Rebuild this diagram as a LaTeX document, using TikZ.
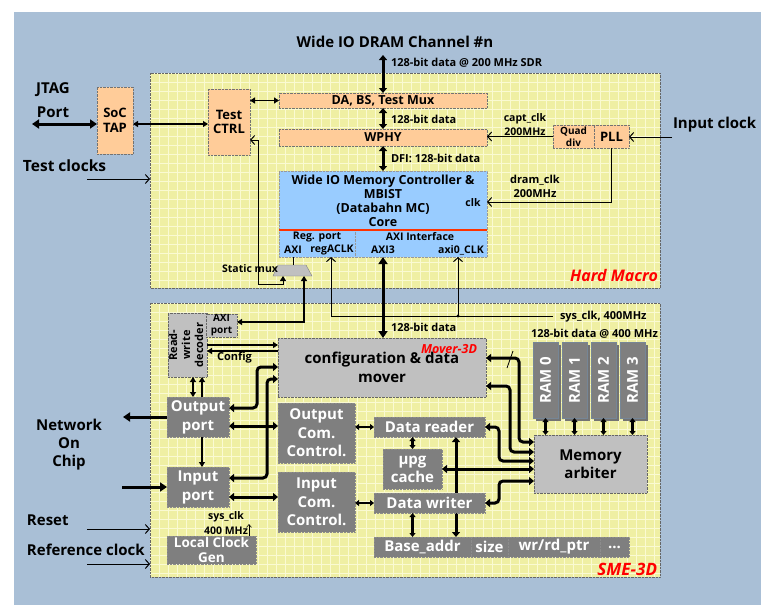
\documentclass[tikz,border=0pt]{standalone}
\usepackage{fontspec}
\setmainfont{Open Sans}
\usetikzlibrary{arrows.meta,shadows}
\definecolor{bgblue}{HTML}{A9BFD6}
\definecolor{yel}{HTML}{EFEFA3}
\definecolor{yelgrid}{HTML}{FAFAD2}
\definecolor{peach}{HTML}{FFCC99}
\definecolor{mcblue}{HTML}{99CCFF}
\definecolor{lgr}{HTML}{C0C0C0}
\definecolor{dgr}{HTML}{7F7F7F}
\definecolor{redline}{HTML}{FF3300}
\newcommand\fz[2]{\fontsize{#1}{#2}\selectfont\bfseries}
\tikzset{
 bx/.style={inner sep=0pt, outer sep=0pt, anchor=north west, align=center},
 macrobox/.style={bx, fill=yel},
 peachbox/.style={bx, fill=peach, draw=black!55, densely dotted},
 bluebox/.style={bx, fill=mcblue, draw=black!40, densely dotted},
 lgbox/.style={bx, fill=lgr, draw=black!60, densely dotted},
 dgbox/.style={bx, fill=dgr, draw=black!45, densely dotted, text=white},
 rambox/.style={bx, fill=dgr, draw=bgblue!70!black, text=white, drop shadow={shadow xshift=2.5pt, shadow yshift=-2.5pt, fill=black!55, opacity=1}},
 lbl/.style={inner sep=0pt, outer sep=0pt, align=center},
 gridl/.style={yelgrid, line width=0.8pt},
 tk/.style={line width=3pt},
 tkboth/.style={tk, {Triangle[length=7pt,width=9pt]}-{Triangle[length=7pt,width=9pt]}},
 tkbs/.style={tk, {Triangle[length=5pt,width=8pt]}-{Triangle[length=5pt,width=8pt]}},
 tkend/.style={tk, -{Triangle[length=7pt,width=9pt]}},
 md/.style={line width=1.3pt},
 mdboth/.style={md, {Triangle[length=5pt,width=6pt]}-{Triangle[length=5pt,width=6pt]}},
 mdend/.style={md, -{Triangle[length=5pt,width=6pt]}},
 tn/.style={line width=1pt, -{Straight Barb[length=4pt,width=9pt]}},
 sm/.style={line width=2.2pt, {Triangle[length=4pt,width=6pt]}-{Triangle[length=4pt,width=6pt]}},
}
\begin{document}
\begin{tikzpicture}[x=1pt,y=-1pt]
\useasboundingbox (0,0) rectangle (761,605);
\fill[white] (0,0) rectangle (761,605);
\fill[bgblue] (14,12) rectangle (761,605);

% ---------- macro boxes with grid
\node[macrobox, minimum width=510, minimum height=215] (hm) at (150,73) {};
\begin{scope}
\clip (150,73) rectangle (660,288);
\foreach \x in {150,159,...,660} \draw[gridl] (\x,73) -- (\x,288);
\foreach \y in {73,82,...,288} \draw[gridl] (150,\y) -- (660,\y);
\end{scope}
\draw[black!60, densely dotted] (hm.north west) rectangle (hm.south east);

\node[macrobox, minimum width=510, minimum height=274] (sme) at (150,303) {};
\begin{scope}
\clip (150,303) rectangle (660,577);
\foreach \x in {150,159,...,660} \draw[gridl] (\x,303) -- (\x,577);
\foreach \y in {303,312,...,577} \draw[gridl] (150,\y) -- (660,\y);
\end{scope}
\draw[black!60, densely dotted] (sme.north west) rectangle (sme.south east);

% ---------- texts outside
\node[lbl, font={\fz{15}{17}}] (title) at (395,42) {Wide IO DRAM Channel \#n};
\node[lbl, font={\fz{15}{17}}] (jtag) at (53,90) {JTAG};
\node[lbl, font={\fz{15}{17}}] (port) at (53,112) {Port};
\node[lbl, anchor=west, font={\fz{15.5}{17}}] (tclk) at (23,166) {Test clocks};
\node[lbl, anchor=west, font={\fz{15}{17}}] (inclk) at (673,125) {Input clock};
\node[lbl, font={\fz{15}{18}}] (noc) at (69,445) {Network\\On\\Chip};
\node[lbl, anchor=west, font={\fz{15}{17}}] (reset) at (27,520) {Reset};
\node[lbl, anchor=west, font={\fz{15}{17}}] (refclk) at (27,550) {Reference clock};

% ---------- hard macro content
\node[peachbox, minimum width=36, minimum height=67, font={\fz{13}{15}}] (soctap) at (97,87) {SoC\\TAP};
\node[peachbox, minimum width=42, minimum height=66, font={\fz{13}{14}}] (testctrl) at (208,89) {Test\\CTRL};
\node[peachbox, minimum width=208, minimum height=15, font={\fz{12.5}{14}}] (damux) at (279,93) {DA, BS, Test Mux};
\node[peachbox, minimum width=208, minimum height=17, font={\fz{12.5}{14}}] (wphy) at (279,129) {WPHY};
\node[bluebox, minimum width=208, minimum height=86] (mc) at (279,171) {};
\node[lbl, font={\fz{12.5}{14.2}}] (mctext) at (383,201) {Wide IO Memory Controller \&\\MBIST\\(Databahn MC)\\Core};
\draw[redline, line width=2.5pt] (279,230) -- (487,230);
\draw[black!40, densely dotted] (355,231.5) -- (355,257);
\node[lbl, font={\fz{10.5}{12}}] (clk) at (473,203) {clk};
\node[lbl, font={\fz{10.5}{12}}] (regport) at (317,237) {Reg. port};
\node[lbl, font={\fz{10.5}{12}}] (axi) at (293,250) {AXI};
\node[lbl, font={\fz{10.5}{12}}] (regaclk) at (332,250) {regACLK};
\node[lbl, font={\fz{10.5}{12}}] (axiif) at (420,237) {AXI Interface};
\node[lbl, font={\fz{10.5}{12}}] (axi3) at (383,250) {AXI3};
\node[lbl, font={\fz{10.5}{12}}] (axiclk) at (461,250) {axi0\_CLK};
\node[peachbox, minimum width=41, minimum height=23, font={\fz{10}{12.5}}] (quad) at (553,125) {Quad\\div};
\node[peachbox, minimum width=35, minimum height=23, font={\fz{13}{15}}] (pll) at (594,125) {PLL};
\node[lbl, font={\fz{10.5}{14.5}}] (capt) at (525,124.5) {capt\_clk\\200MHz};
\node[lbl, font={\fz{11}{14}}] (dram) at (535,186) {dram\_clk\\200MHz};
\node[lbl, anchor=west, font={\fz{11}{12}}] (l1) at (391,63) {128-bit data @ 200 MHz SDR};
\node[lbl, anchor=west, font={\fz{11}{12}}] (l2) at (391,119) {128-bit data};
\node[lbl, anchor=west, font={\fz{11}{12}}] (l3) at (391,158) {DFI: 128-bit data};
\node[lbl, anchor=east, text=red, font={\fz{16}{18}\itshape}] (hmlbl) at (658,275) {Hard Macro};
% static mux
\draw[fill=lgr, draw=black!50] (278,265) -- (306,265) -- (312,276) -- (273,276) -- cycle;
\node[lbl, anchor=east, font={\fz{10.5}{12}}] (muxlbl) at (278,269) {Static mux};
\coordinate (muxtop) at (293,265);
\coordinate (muxinl) at (283,276);
\coordinate (muxinr) at (304,276);

% ---------- SME content
\node[lgbox, minimum width=38, minimum height=64, font={\fz{11}{13}}] (decoder) at (168,313) {\rotatebox{90}{\begin{tabular}{@{}c@{}}Read-\\write\\decoder\end{tabular}}};
\node[lgbox, minimum width=31, minimum height=23, font={\fz{10}{12}}] (axiport) at (206,314) {AXI\\port};
\node[lgbox, minimum width=208, minimum height=59, font={\fz{15}{19}}] (mover) at (278,338) {configuration \& data\\mover};
\node[lbl, anchor=west, text=red, font={\fz{12.5}{14}\itshape}] (moverlbl) at (421,349) {Mover-3D};
\node[dgbox, minimum width=62, minimum height=40, font={\fz{15}{19}}] (outport) at (167,397) {Output\\port};
\node[dgbox, minimum width=62, minimum height=40, font={\fz{15}{19}}] (inport) at (167,467) {Input\\port};
\node[dgbox, minimum width=89, minimum height=28, font={\fz{13.5}{15}}] (lcg) at (167,536) {Local Clock\\Gen};
\node[dgbox, minimum width=77, minimum height=60, font={\fz{15}{18.5}}] (occ) at (278,403) {Output\\Com.\\Control.};
\node[dgbox, minimum width=77, minimum height=60, font={\fz{15}{18.5}}] (icc) at (278,472) {Input\\Com.\\Control.};
\node[dgbox, minimum width=111, minimum height=20, font={\fz{15}{17}}] (reader) at (374,417) {Data reader};
\node[dgbox, minimum width=59, minimum height=40, font={\fz{15}{18}}] (cache) at (383,449) {µpg\\cache};
\node[dgbox, minimum width=97, minimum height=20, font={\fz{15}{17}}] (base) at (374,537) {Base\_addr};
\node[dgbox, minimum width=37, minimum height=20, font={\fz{15}{17}}] (size) at (471,537) {size};
\node[dgbox, minimum width=92, minimum height=20, font={\fz{15}{17}}] (ptr) at (508,537) {wr/rd\_ptr};
\node[dgbox, minimum width=29, minimum height=20, font={\fz{15}{17}}] (dots) at (600,537) {...};
\coordinate (c456) at (456,0);
\draw[tkbs] (reader.south -| c456) -- (base.north -| c456);
\node[dgbox, minimum width=111, minimum height=20, font={\fz{15}{17}}] (writer) at (374,493) {Data writer};
\node[lgbox, minimum width=113, minimum height=58, font={\fz{15}{18}}] (arbiter) at (534,435) {Memory\\arbiter};
\node[rambox, minimum width=25, minimum height=76, font={\fz{15}{17}}] (ram0) at (533,342) {\rotatebox{90}{RAM 0}};
\node[rambox, minimum width=25, minimum height=76, font={\fz{15}{17}}] (ram1) at (562,342) {\rotatebox{90}{RAM 1}};
\node[rambox, minimum width=25, minimum height=76, font={\fz{15}{17}}] (ram2) at (591,342) {\rotatebox{90}{RAM 2}};
\node[rambox, minimum width=25, minimum height=76, font={\fz{15}{17}}] (ram3) at (620,342) {\rotatebox{90}{RAM 3}};
\node[lbl, font={\fz{11}{12}}] (l400) at (594.5,334) {128-bit data @ 400 MHz};
\node[lbl, anchor=west, font={\fz{11}{12}}] (sysclk) at (560,317) {sys\_clk, 400MHz};
\node[lbl, anchor=west, font={\fz{11}{12}}] (l128b) at (391,327) {128-bit data};
\node[lbl, anchor=west, font={\fz{11}{12}}] (cfg) at (217,358) {Config};
\node[lbl, font={\fz{10.5}{15}}] (lsys) at (226,523.5) {sys\_clk\\400 MHz};
\node[lbl, anchor=east, text=red, font={\fz{17}{19}\itshape}] (smelbl) at (657,569) {SME-3D};

% ---------- connectors: hard macro
\coordinate (chtop) at (383,55);
\draw[tkbs] (chtop) -- (damux.north);
\draw[tkbs] (damux.south) -- (wphy.north);
\draw[tkbs] (wphy.south) -- (mc.north);
\coordinate (jtagend) at (32,124);
\draw[tkboth] (jtagend) -- (jtagend -| soctap.west);
\draw[mdboth] (soctap.east |- jtagend) -- (testctrl.west |- jtagend);
\draw[mdboth] (testctrl.east |- damux.west) -- (damux.west);
\coordinate (tclks) at (87,179);
\draw[tn] (tclks) -- (tclks -| hm.west);
\coordinate (inclks) at (672,137);
\draw[tn] (inclks) -- (inclks -| pll.east);
\draw[tn] (quad.west) -- (quad.west -| wphy.east);
\coordinate (dramc) at (611,202);
\draw[tn] (pll.south -| dramc) -- (dramc) -- (dramc -| mc.east);
\draw[line width=0.8pt] (muxtop) -- (muxtop |- mc.south);
\coordinate (tcin) at (258,140);
\coordinate (tcbot) at (258,284);
\draw[line width=1pt, {Straight Barb[length=4pt,width=9pt]}-{Triangle[length=5pt,width=6pt]}] (testctrl.east |- tcin) -- (tcin) -- (tcbot) -- (tcbot -| muxinl) -- (muxinl);
\coordinate (axic) at (304,322);
\draw[line width=1.2pt, {Triangle[length=5pt,width=6pt]}-{Triangle[length=5pt,width=6pt]}] (axiport.east |- axic) -- (axic) -- (muxinr);
\coordinate (sysend) at (553,316);
\coordinate (regc) at (331,316);
\coordinate (axic0) at (458,316);
\draw[tn] (sysend) -- (regc) -- (regc |- mc.south);
\draw[tn] (axic0) -- (axic0 |- mc.south);
\fill (axic0) circle (1.6);
\draw[tkboth] (mc.south) -- (mc.south |- mover.north);

% ---------- connectors: SME
\coordinate (c345) at (0,345);
\coordinate (c351) at (0,351);
\draw[mdend] (decoder.east |- c345) -- (mover.west |- c345);
\draw[mdend] (mover.west |- c351) -- (decoder.east |- c351);
\coordinate (c193) at (193,0);
\coordinate (c202) at (202,0);
\draw[mdboth] (decoder.south -| c193) -- (outport.north -| c193);
\draw[mdend] (outport.north -| c202) -- (decoder.south -| c202);
\draw[mdend] (outport.south -| c202) -- (inport.north -| c202);
\coordinate (nocout) at (123,417);
\draw[tkend] (outport.west) -- (nocout);
\coordinate (nocin) at (122,487);
\draw[tkend] (nocin) -- (inport.west);
\coordinate (rst) at (87,529);
\draw[tn] (rst) -- (rst -| sme.west);
\coordinate (rck) at (87,564);
\draw[tn] (rck) -- (rck -| sme.west);
\coordinate (c249) at (249,0);
\draw[line width=0.6pt, -{Straight Barb[length=3pt,width=5pt]}] (lcg.north -| c249) -- ++(0,-12);
\coordinate (m1) at (257,367);
\coordinate (m1b) at (257,408);
\draw[tkbs, rounded corners=4pt] (mover.west |- m1) -- (m1) -- (m1b) -- (outport.east |- m1b);
\coordinate (m2) at (267,379);
\coordinate (m2b) at (267,478);
\draw[tkbs, rounded corners=4pt] (mover.west |- m2) -- (m2) -- (m2b) -- (inport.east |- m2b);
\coordinate (c426) at (0,426);
\coordinate (c497) at (0,497);
\draw[tkbs] (outport.east |- c426) -- (occ.west |- c426);
\draw[tkbs] (inport.east |- c497) -- (icc.west |- c497);
\draw[sm] (occ.east |- reader.west) -- (reader.west);
\draw[sm] (icc.east |- writer.west) -- (writer.west);
\draw[sm] (reader.south -| cache.north) -- (cache.north);
\draw[sm] (writer.south -| cache.north) -- (base.north -| cache.north);
\draw[tkbs] (cache.east) -- (cache.east -| arbiter.west);
\coordinate (a1) at (519,358);
\coordinate (a1b) at (519,442);
\draw[tkbs, rounded corners=4pt] (mover.east |- a1) -- (a1) -- (a1b) -- (arbiter.west |- a1b);
\coordinate (a2) at (510,386);
\coordinate (a2b) at (510,452);
\draw[tkbs, rounded corners=4pt] (mover.east |- a2) -- (a2) -- (a2b) -- (arbiter.west |- a2b);
\coordinate (a3) at (499,461);
\draw[tkbs, rounded corners=4pt] (reader.east) -- (reader.east -| a3) -- (a3) -- (arbiter.west |- a3);
\coordinate (a4) at (499,481);
\draw[tkbs, rounded corners=4pt] (writer.east) -- (writer.east -| a4) -- (a4) -- (arbiter.west |- a4);
\draw[line width=0.8pt] (507,368) -- (513,351);
\foreach \i in {0,...,3} \draw[sm] (ram\i.south) -- (ram\i.south |- arbiter.north);
\end{tikzpicture}
\end{document}
